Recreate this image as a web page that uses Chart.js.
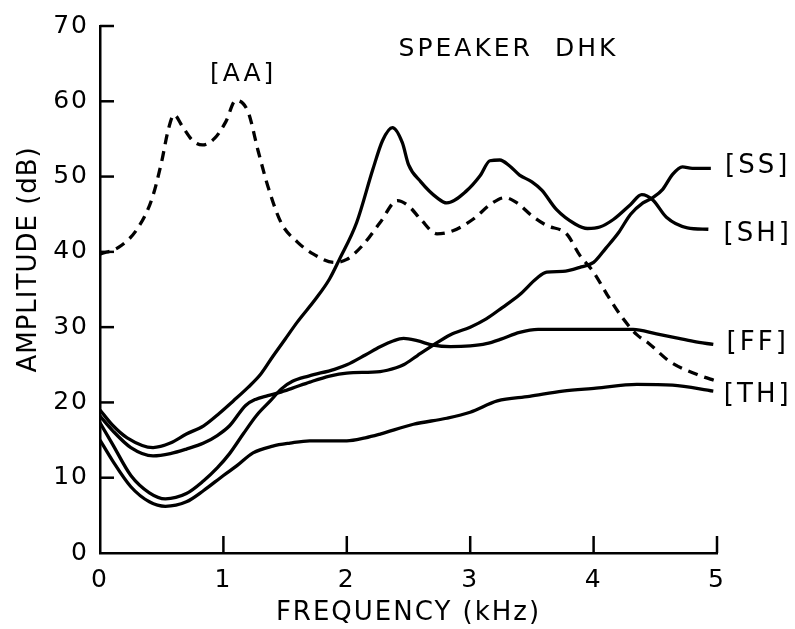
<!DOCTYPE html>
<html>
<head>
<meta charset="utf-8">
<script src="https://cdn.jsdelivr.net/npm/chart.js@4/dist/chart.umd.min.js"></script>
<style>
  html, body { margin: 0; padding: 0; background: #fff; }
  canvas { display: block; }
</style>
</head>
<body>
<canvas id="chart" width="795" height="629"></canvas>
<script>
// spectra for speaker DHK, frequency in kHz, amplitude in dB
const aaFreq = [0, 0.15, 0.3, 0.42, 0.5, 0.55, 0.6, 0.67, 0.75, 0.83, 0.93, 1.02, 1.1, 1.2, 1.28, 1.37, 1.47, 1.6, 1.73, 1.9, 2.0, 2.13, 2.27, 2.41, 2.5, 2.6, 2.73, 2.86, 3.02, 3.18, 3.28, 3.38, 3.5, 3.62, 3.78, 3.89, 4.0, 4.11, 4.24, 4.35, 4.45, 4.62, 4.84, 5.0];
const aaAmp  = [39.7, 40.6, 43, 47, 52, 56, 58.2, 56.6, 54.8, 54.2, 55.1, 57.3, 60.1, 58.6, 53.5, 48.2, 43.8, 41.3, 39.7, 38.6, 39.0, 40.9, 43.9, 46.8, 46.1, 44.3, 42.4, 42.8, 44.3, 46.5, 47.2, 46.5, 44.8, 43.5, 42.4, 39.5, 37.3, 34.3, 31.1, 29.0, 27.8, 25.4, 23.7, 22.8];

const shFreq = [0, 0.1, 0.22, 0.43, 0.57, 0.7, 0.84, 0.97, 1.08, 1.2, 1.3, 1.4, 1.5, 1.6, 1.75, 1.86, 1.94, 2.08, 2.21, 2.29, 2.37, 2.45, 2.5, 2.6, 2.73, 2.81, 2.97, 3.08, 3.16, 3.24, 3.32, 3.4, 3.5, 3.58, 3.7, 3.85, 3.95, 4.05, 4.16, 4.3, 4.39, 4.48, 4.59, 4.76, 4.93];
const shAmp  = [19.0, 17.0, 15.3, 14.0, 14.6, 15.8, 16.9, 18.6, 20.2, 22.0, 23.7, 26.1, 28.4, 30.7, 33.8, 36.4, 39.0, 43.9, 50.9, 54.8, 56.5, 54.5, 51.6, 49.3, 47.2, 46.5, 48.1, 50.1, 52.1, 52.2, 51.4, 50.2, 49.3, 48.2, 45.6, 43.7, 43.1, 43.3, 44.3, 46.3, 47.6, 46.9, 44.6, 43.2, 43.0];

const ssFreq = [0, 0.1, 0.25, 0.43, 0.57, 0.7, 0.84, 0.95, 1.05, 1.18, 1.26, 1.36, 1.45, 1.56, 1.7, 1.86, 2.0, 2.27, 2.4, 2.46, 2.57, 2.7, 2.84, 3.0, 3.13, 3.26, 3.4, 3.54, 3.62, 3.75, 3.9, 4.0, 4.1, 4.2, 4.3, 4.4, 4.48, 4.56, 4.64, 4.72, 4.8, 4.95];
const ssAmp  = [18.2, 16.3, 14.0, 12.9, 13.2, 13.8, 14.6, 15.6, 16.9, 19.6, 20.4, 20.9, 21.3, 21.9, 22.7, 23.5, 23.9, 24.1, 24.6, 25.0, 26.2, 27.6, 29.0, 30.0, 31.1, 32.6, 34.3, 36.5, 37.3, 37.4, 38.0, 38.6, 40.5, 42.5, 45.0, 46.5, 47.2, 48.3, 50.3, 51.3, 51.1, 51.1];

const ffFreq = [0, 0.1, 0.25, 0.4, 0.53, 0.7, 0.84, 0.95, 1.05, 1.16, 1.27, 1.38, 1.47, 1.56, 1.69, 1.9, 2.0, 2.15, 2.27, 2.38, 2.46, 2.57, 2.7, 2.84, 3.0, 3.13, 3.25, 3.4, 3.55, 3.7, 4.0, 4.32, 4.51, 4.66, 4.81, 4.97];
const ffAmp  = [17.3, 14.5, 10.3, 8.0, 7.2, 7.9, 9.6, 11.3, 13.2, 15.8, 18.3, 20.2, 21.8, 22.8, 23.5, 24.4, 25.0, 26.3, 27.4, 28.2, 28.5, 28.2, 27.6, 27.4, 27.5, 27.8, 28.4, 29.3, 29.7, 29.7, 29.7, 29.7, 29.1, 28.6, 28.1, 27.7];

const thFreq = [0, 0.1, 0.25, 0.4, 0.53, 0.7, 0.84, 1.0, 1.11, 1.24, 1.4, 1.54, 1.7, 2.0, 2.15, 2.27, 2.54, 2.81, 3.0, 3.22, 3.48, 3.75, 4.02, 4.35, 4.64, 4.97];
const thAmp  = [15.0, 12.3, 8.8, 6.8, 6.2, 6.8, 8.3, 10.3, 11.6, 13.3, 14.2, 14.6, 14.9, 14.9, 15.3, 15.8, 17.1, 17.9, 18.7, 20.2, 20.8, 21.5, 21.9, 22.4, 22.3, 21.5];

const freqTicks = [1, 2, 3, 4, 5];
const ampTicks = [10, 20, 30, 40, 50, 60, 70];

const FONT = 'DejaVu Sans';

function points(xs, ys) {
    return xs.map((x, i) => ({ x: x, y: ys[i] }));
}

function curve(label, xs, ys, dashed) {
    return {
        label,
        data: points(xs, ys),
        borderColor: '#000',
        borderWidth: 3.3,
        borderDash: dashed ? [10, 7] : [],
        pointRadius: 0,
        fill: false,
        cubicInterpolationMode: 'monotone'
    };
}

// text placed in data units (kHz, dB)
const notes = [
    { text: '[AA]', x: 1.16, y: 63.6, size: 25 },
    { text: 'SPEAKER  DHK', x: 3.31, y: 66.9, size: 25 },
    { text: '[SS]', x: 5.33, y: 51.4, size: 26 },
    { text: '[SH]', x: 5.33, y: 42.4, size: 26 },
    { text: '[FF]', x: 5.33, y: 27.8, size: 26 },
    { text: '[TH]', x: 5.33, y: 21.0, size: 26 }
];

const extras = {
    id: 'extras',
    beforeDraw(chart) {
        chart.ctx.letterSpacing = '2px';
    },
    afterDraw(chart) {
        const ctx = chart.ctx;
        const xs = chart.scales.x;
        const ys = chart.scales.y;
        ctx.save();
        ctx.strokeStyle = '#000';
        ctx.lineWidth = 2.5;
        // inward tick marks
        freqTicks.forEach(v => {
            const px = xs.getPixelForValue(v);
            ctx.beginPath();
            ctx.moveTo(px, ys.bottom);
            ctx.lineTo(px, ys.bottom - 17);
            ctx.stroke();
        });
        ampTicks.forEach(v => {
            const py = ys.getPixelForValue(v);
            ctx.beginPath();
            ctx.moveTo(xs.left, py);
            ctx.lineTo(xs.left + 14, py);
            ctx.stroke();
        });

        ctx.fillStyle = '#000';
        ctx.textAlign = 'center';
        ctx.textBaseline = 'middle';
        ctx.letterSpacing = '3px';
        notes.forEach(n => {
            ctx.font = n.size + 'px "' + FONT + '"';
            ctx.fillText(n.text, xs.getPixelForValue(n.x), ys.getPixelForValue(n.y));
        });

        // y axis title
        ctx.letterSpacing = '1px';
        ctx.font = '26px "' + FONT + '"';
        ctx.translate(29, ys.getPixelForValue(39));
        ctx.rotate(-Math.PI / 2);
        ctx.fillText('AMPLITUDE (dB)', 0, 0);
        ctx.restore();
    }
};

new Chart(document.getElementById('chart'), {
    type: 'line',
    data: {
        datasets: [
            curve('AA', aaFreq, aaAmp, true),
            curve('SH', shFreq, shAmp, false),
            curve('SS', ssFreq, ssAmp, false),
            curve('FF', ffFreq, ffAmp, false),
            curve('TH', thFreq, thAmp, false)
        ]
    },
    options: {
        responsive: false,
        animation: false,
        layout: { padding: { left: 0, right: 78, top: 22, bottom: 0 } },
        plugins: {
            legend: { display: false },
            tooltip: { enabled: false }
        },
        scales: {
            x: {
                type: 'linear',
                min: 0,
                max: 5,
                afterFit: s => { s.height = 76; },
                grid: { display: true, drawOnChartArea: false, drawTicks: false },
                border: { display: true, color: '#000', width: 2.5 },
                ticks: {
                    stepSize: 1,
                    color: '#000',
                    padding: 12,
                    font: { family: FONT, size: 25 }
                },
                title: {
                    display: true,
                    text: 'FREQUENCY (kHz)',
                    color: '#000',
                    padding: { top: 0, bottom: 0 },
                    font: { family: FONT, size: 26 }
                }
            },
            y: {
                type: 'linear',
                min: 0,
                max: 70,
                afterFit: s => { s.width = 100; },
                grid: { display: true, drawOnChartArea: false, drawTicks: false },
                border: { display: true, color: '#000', width: 2.5 },
                ticks: {
                    stepSize: 10,
                    color: '#000',
                    padding: 11,
                    font: { family: FONT, size: 25 }
                }
            }
        }
    },
    plugins: [extras]
});
</script>
</body>
</html>
